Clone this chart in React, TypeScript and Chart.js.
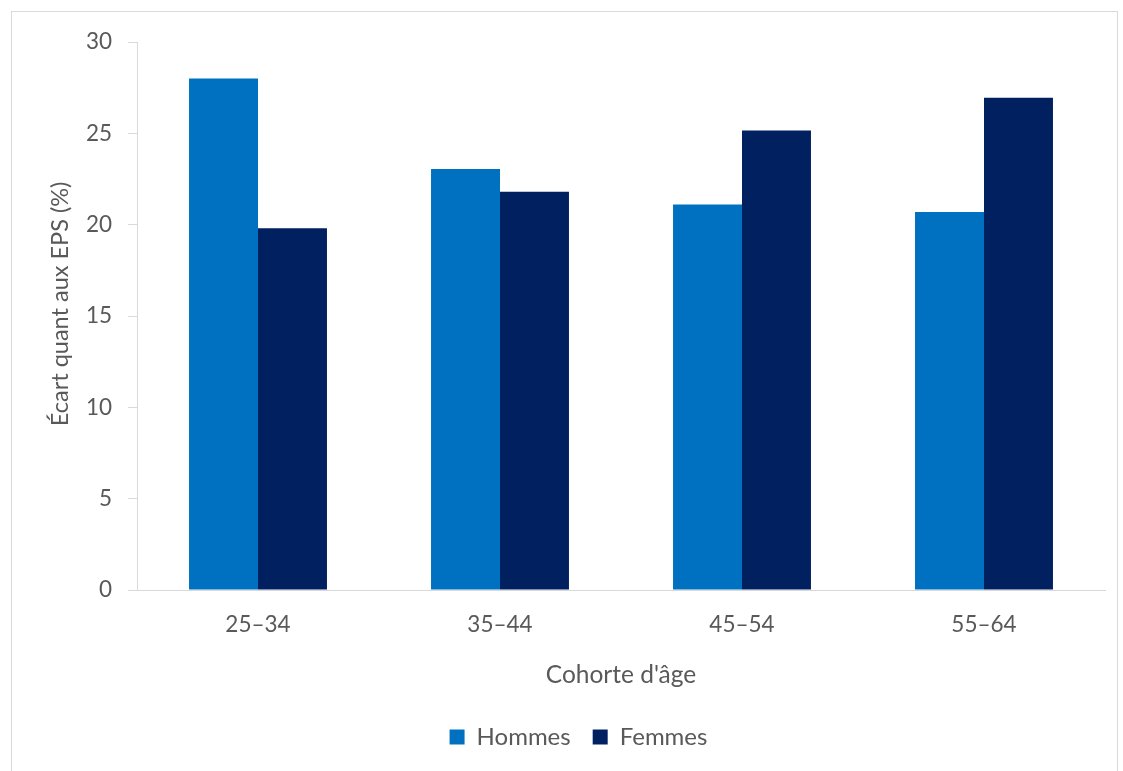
import React, { useEffect, useRef } from "react";
import { Chart, registerables } from "chart.js";

Chart.register(...registerables);

const categories = ["25–34", "35–44", "45–54", "55–64"];
const hommes = [28.0, 23.05, 21.1, 20.7];
const femmes = [19.8, 21.8, 25.15, 26.95];
const yTicks = [0, 5, 10, 15, 20, 25, 30];

const FONT = "Lato, 'Open Sans', sans-serif";
const TEXT = "#595959";
const LINE = "#D9D9D9";
const PAD_BOTTOM = 12;
const AREA_BOTTOM = 590;
const LEGEND_SHIFT = 26;

// Nudges the legend block to the right after layout.
const legendOffset = {
  id: "legendOffset",
  afterLayout(chart: any) {
    const lg = chart.legend;
    if (!lg) return;
    lg.left += LEGEND_SHIFT;
    lg.right += LEGEND_SHIFT;
  },
};

export default function App() {
  const canvasRef = useRef<HTMLCanvasElement | null>(null);

  useEffect(() => {
    if (!canvasRef.current) return;
    const chart = new Chart(canvasRef.current, {
      type: "bar",
      data: {
        labels: categories,
        datasets: [
          {
            label: "Hommes",
            data: hommes,
            backgroundColor: "#0070C0",
            categoryPercentage: 0.57,
            barPercentage: 1,
          },
          {
            label: "Femmes",
            data: femmes,
            backgroundColor: "#002060",
            categoryPercentage: 0.57,
            barPercentage: 1,
          },
        ],
      },
      plugins: [legendOffset],
      options: {
        animation: false,
        responsive: false,
        maintainAspectRatio: false,
        layout: { padding: { top: 42, right: 18, left: 0, bottom: PAD_BOTTOM } },
        plugins: {
          tooltip: { enabled: false },
          legend: {
            position: "bottom",
            labels: {
              font: { family: FONT, size: 24 },
              color: TEXT,
              boxWidth: 15,
              boxHeight: 15,
              padding: 22,
            },
          },
        },
        scales: {
          x: {
            grid: { display: false, drawTicks: false },
            border: { display: true, color: LINE, width: 1 },
            ticks: {
              font: { family: FONT, size: 22.5 },
              color: TEXT,
              padding: 21,
            },
            title: {
              display: true,
              text: "Cohorte d'âge",
              font: { family: FONT, size: 24.5 },
              color: TEXT,
              padding: { top: 0, bottom: 13 },
            },
            afterFit: (scale: any) => {
              const ch = scale.chart;
              const legendH = ch.legend ? ch.legend.height : 0;
              scale.height = ch.height - PAD_BOTTOM - legendH - AREA_BOTTOM;
            },
          },
          y: {
            min: 0,
            max: 30,
            afterBuildTicks: (scale: any) => {
              scale.ticks = yTicks.map((v) => ({ value: v }));
            },
            grid: {
              drawOnChartArea: false,
              drawTicks: true,
              tickLength: 9,
              color: LINE,
            },
            border: { display: true, color: LINE, width: 1 },
            ticks: {
              font: { family: FONT, size: 22.5 },
              color: TEXT,
              padding: 16,
            },
            title: {
              display: true,
              text: "    Écart quant aux EPS (%)",
              font: { family: FONT, size: 23.5 },
              color: TEXT,
              padding: { top: 46, bottom: 0 },
            },
            afterFit: (scale: any) => {
              scale.width = 137;
            },
          },
        },
      },
    });
    return () => chart.destroy();
  }, []);

  return (
    <div
      style={{
        position: "fixed",
        left: 0,
        top: 0,
        width: 1123,
        height: 771,
        overflow: "hidden",
        background: "#fff",
      }}
    >
      <div
        style={{
          position: "absolute",
          left: 11,
          top: 11,
          width: 1105,
          height: 800,
          border: `1px solid ${LINE}`,
        }}
      />
      <canvas
        ref={canvasRef}
        width={1123}
        height={771}
        style={{ position: "absolute", left: 0, top: 0, width: 1123, height: 771 }}
      />
    </div>
  );
}
